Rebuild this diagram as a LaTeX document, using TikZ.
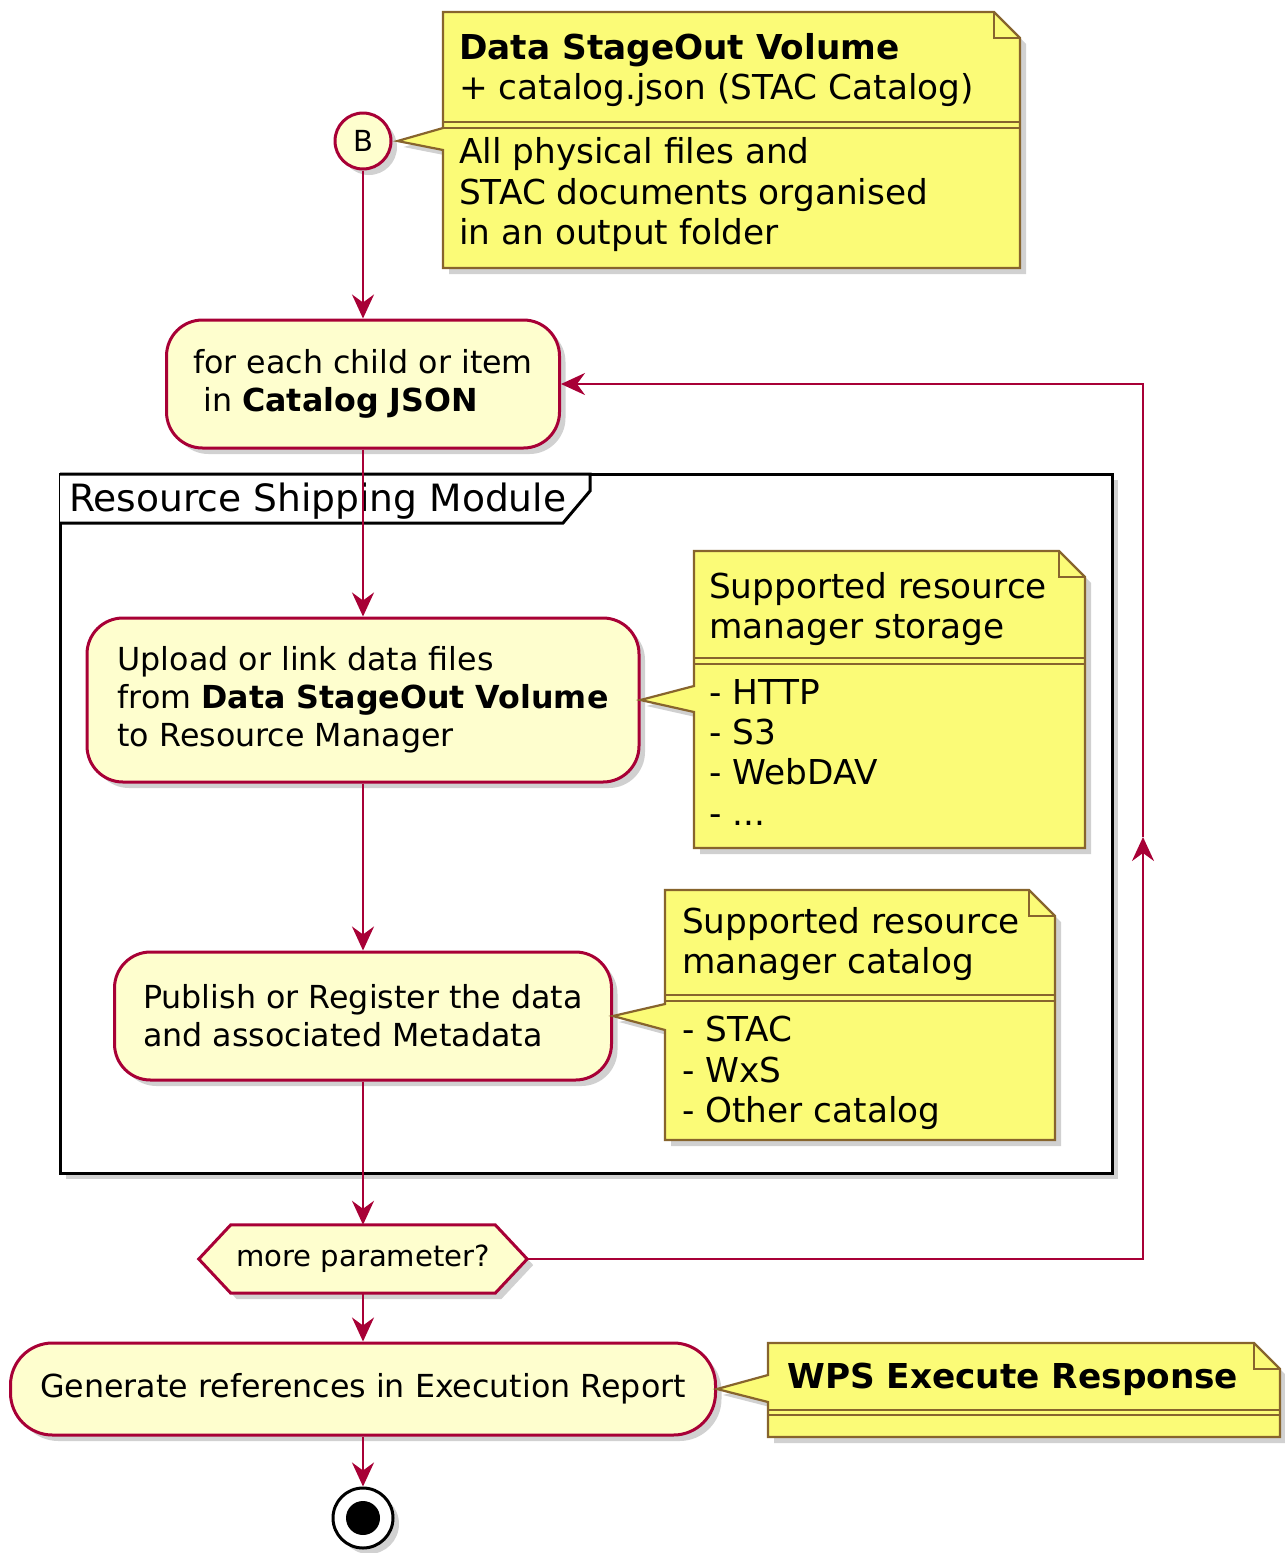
\documentclass[tikz,border=0pt]{standalone}
\usepackage{fontspec}
\setmainfont{DejaVu Sans}
\usetikzlibrary{arrows.meta,shadows,calc}
\definecolor{actfill}{HTML}{FEFECE}
\definecolor{actline}{HTML}{A80036}
\definecolor{notefill}{HTML}{FBFB77}
\definecolor{noteline}{RGB}{135,100,45}
\newcommand{\actfont}{\fontsize{31.7}{38}\selectfont}
\newcommand{\notefont}{\fontsize{34.3}{40.3}\selectfont}
\newcommand{\decfont}{\fontsize{29.1}{35}\selectfont}
\newcommand{\framefont}{\fontsize{37.6}{44}\selectfont}

\begin{document}
\begin{tikzpicture}[x=1pt,y=-1pt,
  softshadow/.style={drop shadow={fill=black!60,opacity=0.3,shadow xshift=6pt,shadow yshift=-6pt}},
  act/.style={draw=actline,fill=actfill,line width=3pt,rounded corners=36pt,align=left,font=\actfont,inner sep=0pt,softshadow},
  note/.style={draw=noteline,fill=notefill,line width=2.2pt,line join=miter,softshadow},
  notesep/.style={draw=noteline,line width=2pt,line join=miter},
  % the base anchor of a multi-line text sits on its last line
  notetext/.style={anchor=base west,align=left,font=\notefont,inner sep=0pt},
  flow/.style={draw=actline,line width=2.5pt,-{Stealth[length=24pt,width=22pt,inset=8pt]}},
]
\useasboundingbox (0,0) rectangle (1285,1553);

% ---- frame of the shipping module ----
\filldraw[draw=black,fill=white,line width=3pt,softshadow] (60,474) rectangle (1112,1173);
\filldraw[draw=black,fill=white,line width=3pt,line join=miter] (60,474) -- (590,474) -- (590,491) -- (563,523) -- (60,523);
\node[anchor=base west,font=\framefont,inner sep=0pt] (frlabel) at (69,511) {Resource Shipping Module};

% ---- activities ----
\node[circle,draw=actline,fill=actfill,line width=3pt,minimum size=56pt,inner sep=0pt,font=\fontsize{29}{34}\selectfont,softshadow] (B) at (363,141) {B};
\node[act,minimum width=393pt,minimum height=128pt] (foreach) at (363,384) {for each child or item\\\hspace*{0.32em}in \textbf{Catalog JSON}};
\node[act,minimum width=552pt,minimum height=164pt] (upload) at (363,700) {Upload or link data files\\from \textbf{Data StageOut Volume}\\to Resource Manager};
\node[act,minimum width=497pt,minimum height=128pt] (publish) at (363,1016) {Publish or Register the data\\and associated Metadata};

\node[minimum width=328pt,minimum height=68pt,inner sep=0pt] (dec) at (363,1259) {};
\filldraw[draw=actline,fill=actfill,line width=3pt,line join=miter,softshadow] (dec.west) -- ($(dec.north west)+(32,0)$) -- ($(dec.north east)+(-32,0)$) -- (dec.east) -- ($(dec.south east)+(-32,0)$) -- ($(dec.south west)+(32,0)$) -- cycle;
\node[font=\decfont,inner sep=0pt] (dectext) at (dec.center) {more parameter?};

\node[act,minimum width=705pt,minimum height=92pt,rounded corners=42pt] (gen) at (363,1389) {Generate references in Execution Report};

\node[circle,draw=black,fill=white,line width=3pt,minimum size=60pt,inner sep=0pt,softshadow] (end) at (363,1518) {};
\node[circle,fill=black,minimum size=34pt,inner sep=0pt] (enddot) at (end.center) {};

% ---- notes ----
\filldraw[note] (443,12) -- (994,12) -- (1020,38) -- (1020,268) -- (443,268) -- (443,150) -- ($(B.east)+(5,0)$) -- (443,128) -- cycle;
\draw[notesep] (994,12) -- (994,38) -- (1020,38);
\draw[notesep] (443,122) -- (1020,122) (443,128) -- (1020,128);
\node[notetext] (n1a) at (459,99.5) {\textbf{Data StageOut Volume}\\+ catalog.json (STAC Catalog)};
\node[notetext] (n1b) at (459,244.5) {All physical files and\\STAC documents organised\\in an output folder};

\filldraw[note] (694,551) -- (1059,551) -- (1085,577) -- (1085,848) -- (694,848) -- (694,712) -- (upload.east) -- (694,686) -- cycle;
\draw[notesep] (1059,551) -- (1059,577) -- (1085,577);
\draw[notesep] (694,658) -- (1085,658) (694,664) -- (1085,664);
\node[notetext] (n2a) at (709,638.5) {Supported resource\\manager storage};
\node[notetext] (n2b) at (709,825) {- HTTP\\- S3\\- WebDAV\\- ...};

\filldraw[note] (665,890) -- (1029,890) -- (1055,916) -- (1055,1140) -- (665,1140) -- (665,1030) -- (publish.east) -- (665,1004) -- cycle;
\draw[notesep] (1029,890) -- (1029,916) -- (1055,916);
\draw[notesep] (665,995) -- (1055,995) (665,1001) -- (1055,1001);
\node[notetext] (n3a) at (682,973.5) {Supported resource\\manager catalog};
\node[notetext] (n3b) at (682,1122.5) {- STAC\\- WxS\\- Other catalog};

\filldraw[note] (768,1343) -- (1254,1343) -- (1280,1369) -- (1280,1437) -- (768,1437) -- (768,1402) -- (gen.east) -- (768,1375) -- cycle;
\draw[notesep] (1254,1343) -- (1254,1369) -- (1280,1369);
\draw[notesep] (768,1410) -- (1280,1410) (768,1415) -- (1280,1415);
\node[notetext] (n4) at (787,1388) {\textbf{WPS Execute Response}};

% ---- control flow ----
\draw[flow] (B.south) -- (foreach.north);
\draw[flow] (foreach.south) -- (upload.north);
\draw[flow] (upload.south) -- (publish.north);
\draw[flow] (publish.south) -- (dec.north);
\draw[flow] (dec.south) -- (gen.north);
\draw[flow] (gen.south) -- (end.north);

\coordinate (loopR) at (1143,1259);
\coordinate (loopM) at (1143,837);
\draw[flow] (dec.east) -- (loopR) -- (loopM);
\draw[flow] (loopM) |- (foreach.east);
\end{tikzpicture}
\end{document}
